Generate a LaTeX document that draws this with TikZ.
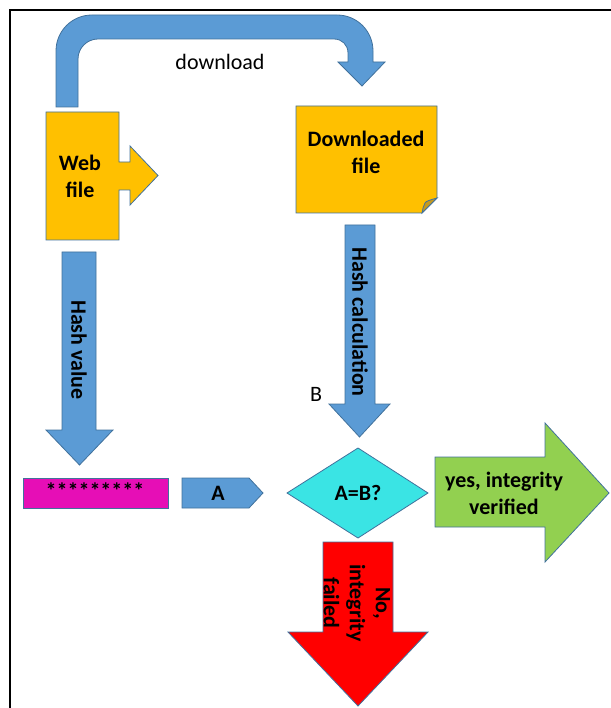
\documentclass[tikz,border=0pt]{standalone}
\usepackage{fontspec}
\setmainfont{Carlito}
\begin{document}
\begin{tikzpicture}[x=1pt,y=-1pt,
  blockshape/.style={draw=edgeblue,line width=0.8pt,line join=miter},
  bluefill/.style={blockshape,fill=arrowblue},
  lbl/.style={inner sep=0pt,font=\fontsize{22}{27}\selectfont\bfseries,align=center},
  plain/.style={inner sep=0pt,font=\fontsize{22}{27}\selectfont}]
\definecolor{arrowblue}{HTML}{5B9BD5}
\definecolor{edgeblue}{HTML}{41719C}
\definecolor{filegold}{HTML}{FFC000}
\definecolor{folddark}{HTML}{C59A1E}
\definecolor{starpink}{HTML}{E60EB6}
\definecolor{cmpcyan}{HTML}{3AE4E4}
\definecolor{okgreen}{HTML}{92D050}
\definecolor{failred}{HTML}{FF0000}
\useasboundingbox (0,0) rectangle (610,708);

% outer frame (only top and left edges fall inside the page)
\draw[line width=2pt] (10,720) -- (10,10) -- (620,10);

% curved "download" arrow
\path[bluefill] (56,107) -- (56,51)
  .. controls (56,31) and (72,15) .. (92,15)
  -- (337,15)
  .. controls (357,15) and (373,31) .. (373,51)
  -- (373,62) -- (385,62) -- (362,86) -- (338,62) -- (348,62) -- (348,53)
  .. controls (348,45) and (342,39) .. (334,39)
  -- (98,39)
  .. controls (87,39) and (78,48) .. (78,59)
  -- (78,107) -- cycle;
\node[plain] (dl) at (220,62) {download};

% web file with its pointer
\path[blockshape,fill=filegold] (46,112) -- (119,112) -- (119,162) -- (130,162)
  -- (130,146) -- (158,175.5) -- (130,205) -- (130,190) -- (119,190)
  -- (119,240) -- (46,240) -- cycle;
\node[lbl] (web) at (80,176) {Web\\file};

% downloaded file (note with folded corner)
\path[blockshape,fill=filegold] (296,106) -- (437,106) -- (437,198) -- (422,213)
  -- (296,213) -- cycle;
\path[blockshape,fill=folddark] (437,198) .. controls (430,200) and (426,201) .. (425,203)
  .. controls (423,206) and (423,209) .. (422,213) -- cycle;
\node[lbl] (dlf) at (366,152) {Downloaded\\file};

% hash value arrow
\path[bluefill] (62,252) -- (96,252) -- (96,430) -- (113,430) -- (79.5,465)
  -- (46,430) -- (62,430) -- cycle;
\node[lbl,rotate=-90] (hv) at (79,350) {Hash value};

% hash calculation arrow
\path[bluefill] (345,225) -- (375,225) -- (375,404) -- (390,404) -- (359.5,437)
  -- (329,404) -- (345,404) -- cycle;
\node[lbl,rotate=-90] (hc) at (360,322) {Hash calculation};
\node[plain] (b) at (316,394) {B};

% stored hash value
\path[blockshape,fill=starpink] (23,478) rectangle (168,508);
\node[lbl] (stars) at (95,491) {*********};

% value A
\path[bluefill] (182,478) -- (249,478) -- (263,493) -- (249,508) -- (182,508) -- cycle;
\node[lbl] (a) at (218,493) {A};

% comparison
\path[blockshape,fill=cmpcyan] (358,448) -- (428,493) -- (358,538) -- (287,493) -- cycle;
\node[lbl] (cmp) at (358,493) {A=B?};

% success arrow
\path[blockshape,fill=okgreen] (435,457) -- (545,457) -- (545,423) -- (609,493)
  -- (545,562) -- (545,527) -- (435,527) -- cycle;
\node[lbl] (yes) at (504,493) {yes, integrity\\verified};

% failure arrow
\path[blockshape,fill=failred] (323,542) -- (393,542) -- (393,632) -- (428,632)
  -- (358,706) -- (288,632) -- (323,632) -- cycle;
\node[lbl,rotate=-90,font=\fontsize{22}{26}\selectfont\bfseries] (no) at (357,603) {No,\\integrity\\failed};
\end{tikzpicture}
\end{document}
